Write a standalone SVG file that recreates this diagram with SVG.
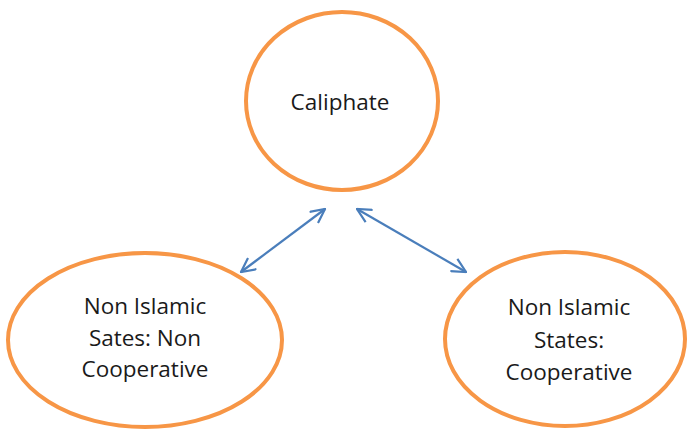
<svg xmlns="http://www.w3.org/2000/svg" width="688" height="433" viewBox="0 0 688 433">
<defs>
<style>
.node{fill:#fff;stroke:#F79646;stroke-width:4}
.lbl{font-family:"Open Sans","Liberation Sans",sans-serif;font-size:22.5px;fill:#1a1a1a;text-anchor:middle}
.conn{stroke:#4A7EBB;stroke-width:2.2;fill:none;marker-start:url(#ah);marker-end:url(#ah)}
</style>
<marker id="ah" viewBox="0 0 16 16" refX="15" refY="8" markerWidth="16" markerHeight="16" markerUnits="userSpaceOnUse" orient="auto-start-reverse">
<path d="M1,1 L15,8 L1,15" fill="none" stroke="#4A7EBB" stroke-width="2.2"/>
</marker>
</defs>
<g id="caliphate">
<ellipse class="node" cx="342" cy="101" rx="96" ry="89"/>
<text class="lbl" x="340" y="110">Caliphate</text>
</g>
<g id="non-cooperative">
<ellipse class="node" cx="145" cy="340" rx="137" ry="87"/>
<text class="lbl" x="145" y="314">Non Islamic</text>
<text class="lbl" x="145" y="346">Sates: Non</text>
<text class="lbl" x="145" y="377">Cooperative</text>
</g>
<g id="cooperative">
<ellipse class="node" cx="565" cy="339" rx="120" ry="87"/>
<text class="lbl" x="569" y="315">Non Islamic</text>
<text class="lbl" x="569" y="348">States:</text>
<text class="lbl" x="569" y="380">Cooperative</text>
</g>
<g id="connectors">
<line class="conn" x1="241" y1="272" x2="325" y2="209"/>
<line class="conn" x1="357" y1="209" x2="466" y2="272"/>
</g>
</svg>
